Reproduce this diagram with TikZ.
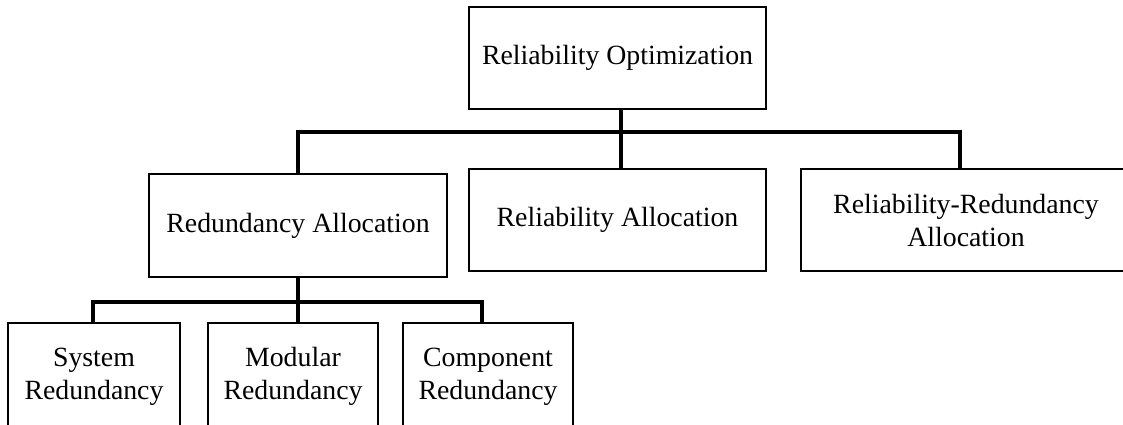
\documentclass[tikz,border=0pt]{standalone}
\usepackage{fontspec}
\setmainfont{Liberation Serif}
\usetikzlibrary{calc}
\tikzset{
  box/.style={draw=black, line width=1.8pt, fill=white, inner sep=0pt, align=center,
    font=\fontsize{27.8}{33}\selectfont},
  conn/.style={draw=black, line width=3.6pt, line join=miter}
}
\begin{document}
\begin{tikzpicture}[x=1pt,y=-1pt]
\useasboundingbox (0,0) rectangle (1123,425);
\clip (0,0) rectangle (1123,425);
\fill[white] (0,0) rectangle (1123,425);
% nodes
\node[box, minimum width=297pt, minimum height=102pt] (ro) at (617.5,58) {Reliability Optimization};
\node[box, minimum width=298pt, minimum height=103pt] (ra) at (298,225.5) {Redundancy Allocation};
\node[box, minimum width=297pt, minimum height=102pt] (rla) at (617.5,220) {Reliability Allocation};
\node[box, minimum width=330pt, minimum height=102pt] (rra) at (966,220) {Reliability-Redundancy\\Allocation};
\node[box, minimum width=172pt, minimum height=107pt] (sr) at (94,376.5) {System\\Redundancy};
\node[box, minimum width=170pt, minimum height=107pt] (mr) at (293,376.5) {Modular\\Redundancy};
\node[box, minimum width=170pt, minimum height=107pt] (cr) at (488,376.5) {Component\\Redundancy};
% helper coordinates
\coordinate (bus1) at (0,132);
\coordinate (bus2) at (0,302);
\coordinate (rotop) at ([xshift=3.5pt]ro.south);
\coordinate (rlatop) at ([xshift=3.5pt]rla.north);
\coordinate (rrtop) at ([xshift=-6pt]rra.north);
\coordinate (srtop) at ([xshift=-1pt]sr.north);
\coordinate (crtop) at ([xshift=-6pt]cr.north);
% connectors level 1
\draw[conn] (rotop) -- (rlatop);
\draw[conn] (ra.north) |- (rrtop |- bus1) -- (rrtop);
% connectors level 2
\draw[conn] (ra.south) -- (ra.south |- mr.north);
\draw[conn] (srtop) |- (crtop |- bus2) -- (crtop);
\end{tikzpicture}
\end{document}
